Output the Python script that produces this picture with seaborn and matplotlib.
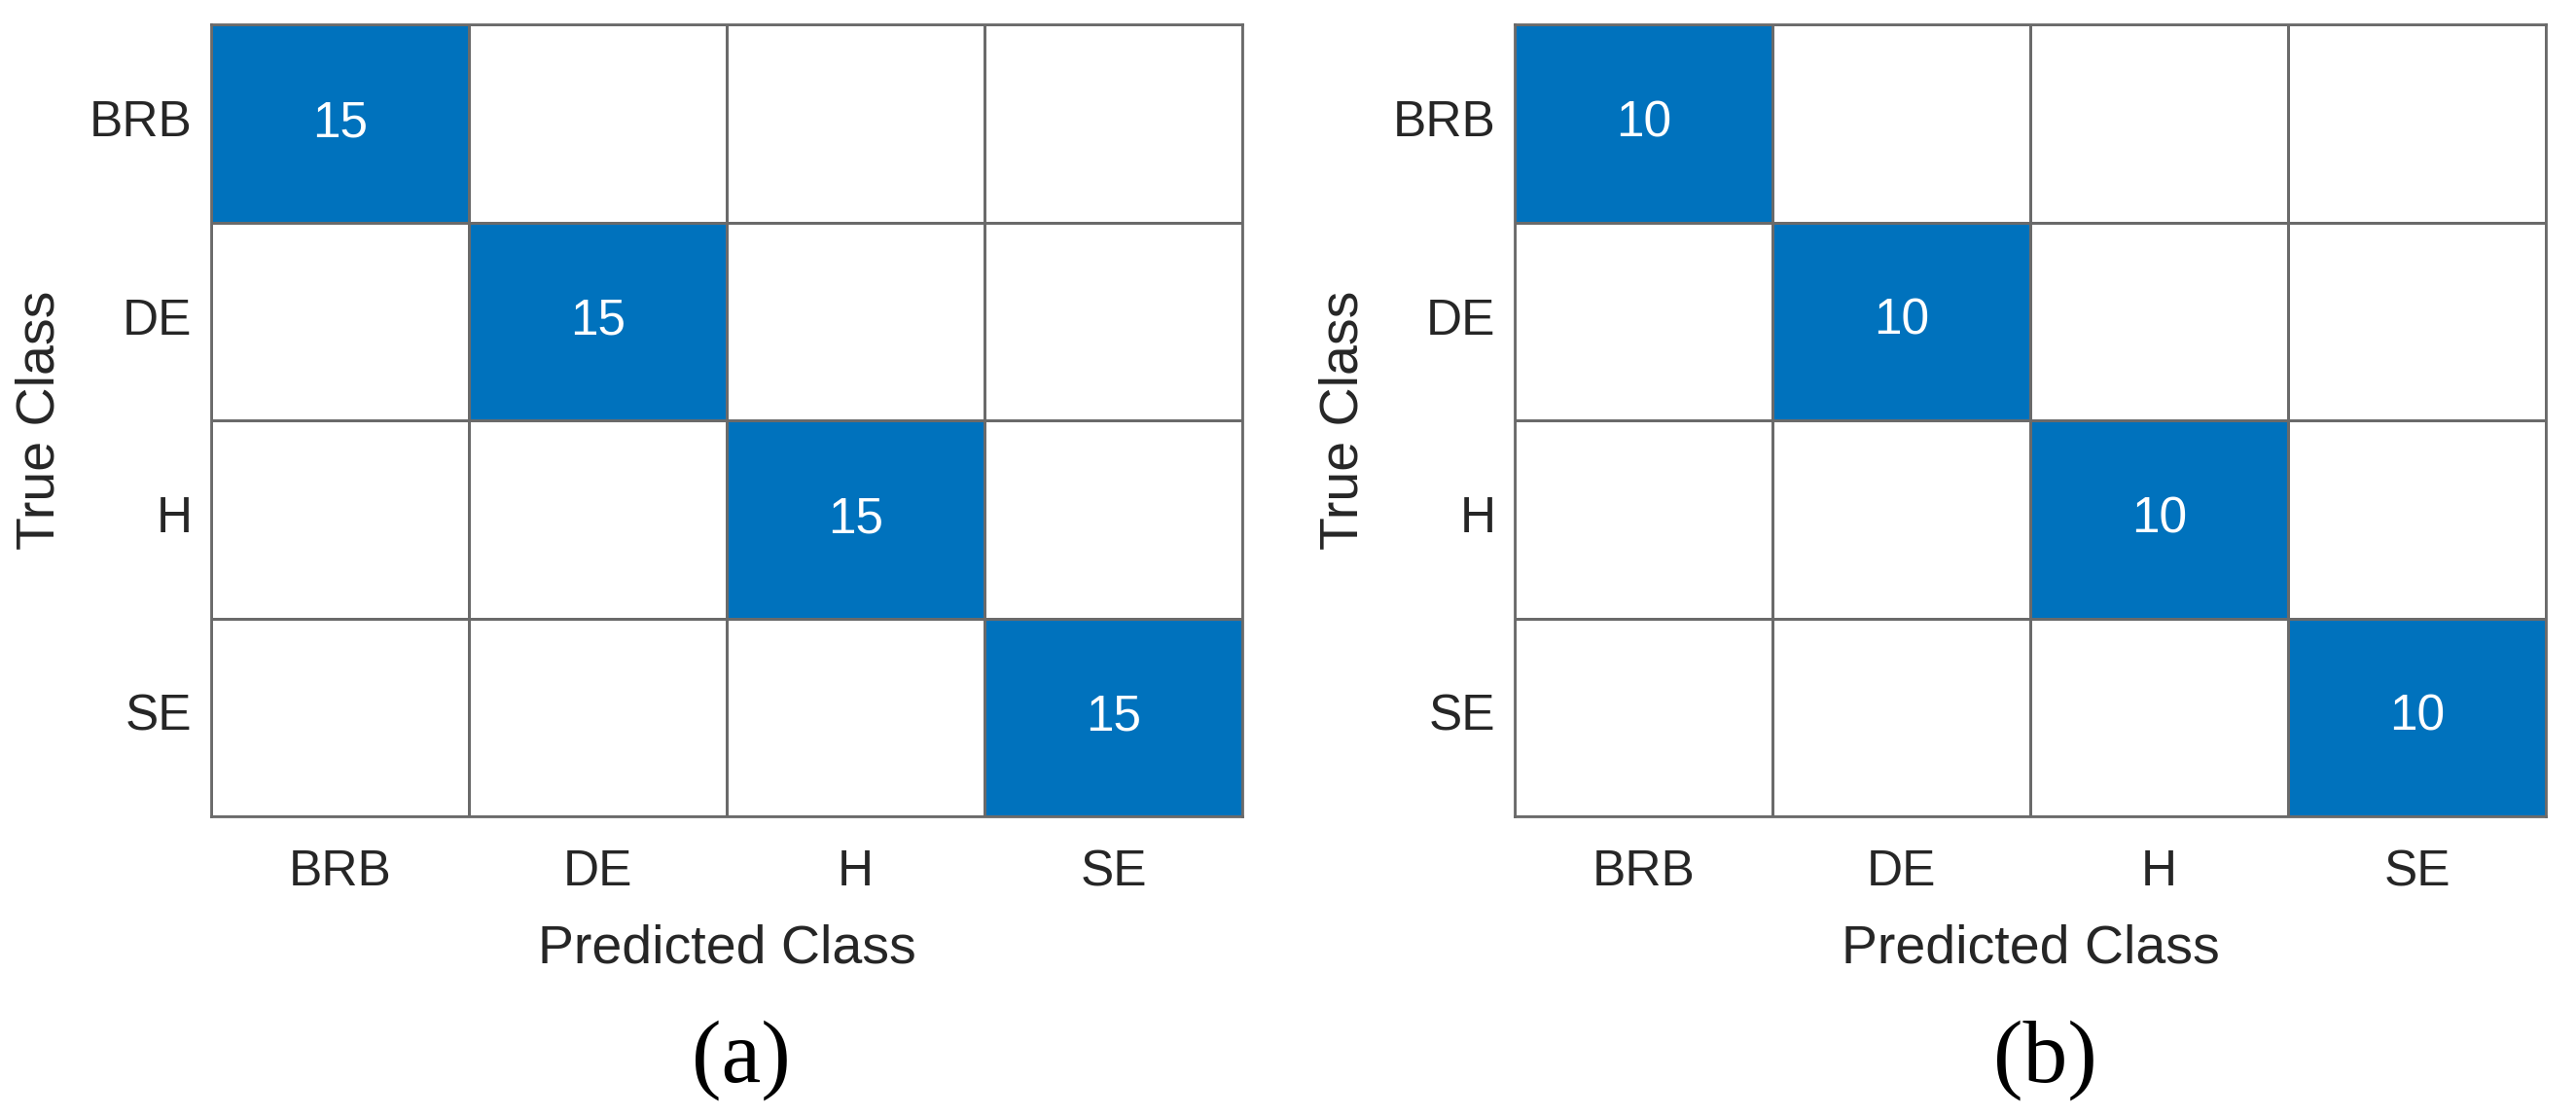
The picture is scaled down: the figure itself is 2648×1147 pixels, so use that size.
import numpy as np
import pandas as pd
import matplotlib
matplotlib.use('Agg')
import matplotlib.pyplot as plt
from matplotlib.colors import ListedColormap
import seaborn as sns

# Datos de las dos matrices de confusión
clases = ['BRB', 'DE', 'H', 'SE']
conf_a = [[15, 0, 0, 0],
          [0, 15, 0, 0],
          [0, 0, 15, 0],
          [0, 0, 0, 15]]
conf_b = [[10, 0, 0, 0],
          [0, 10, 0, 0],
          [0, 0, 10, 0],
          [0, 0, 0, 10]]
etiquetas = ['(a)', '(b)']

sns.set_style('white')
plt.rcParams['font.family'] = ['Liberation Sans', 'DejaVu Sans']

W, H = 2648, 1147
fig = plt.figure(figsize=(W / 100, H / 100), dpi=100)

azul = '#0072BD'
gris = '#6a6a6a'
cmap = ListedColormap(['white', azul])

# posiciones en píxeles: (izquierda, arriba, derecha, abajo)
paneles = [(217, 25, 1277, 839), (1557, 25, 2617, 839)]

for (x0, y0, x1, y1), datos, etiqueta in zip(paneles, [conf_a, conf_b], etiquetas):
    ax = fig.add_axes([x0 / W, 1 - y1 / H, (x1 - x0) / W, (y1 - y0) / H])
    df = pd.DataFrame(datos, index=clases, columns=clases)
    mask_color = (df > 0).astype(int)
    anot = df.astype(str).where(df > 0, '')
    sns.heatmap(mask_color, ax=ax, cmap=cmap, vmin=0, vmax=1, cbar=False,
                annot=anot, fmt='', linewidths=2, linecolor=gris,
                annot_kws={'color': 'white', 'fontsize': 37})
    for s in ax.spines.values():
        s.set_visible(True)
        s.set_color(gris)
        s.set_linewidth(2)
    ax.tick_params(axis='both', length=0, labelsize=37, colors='#262626')
    ax.tick_params(axis='x', pad=24)
    ax.tick_params(axis='y', pad=14)
    ax.set_yticklabels(clases, rotation=0)
    ax.set_xticklabels(clases, rotation=0)
    ax.set_xlabel('')
    ax.set_ylabel('')

    cx = (x0 + x1) / 2
    fig.text(cx / W, 1 - 990 / H, 'Predicted Class', ha='center', va='baseline',
             fontsize=40, color='#262626')
    fig.text((x0 - 175) / W, 1 - ((y0 + y1) / 2) / H, 'True Class', rotation=90,
             ha='center', va='center', fontsize=40, color='#262626')
    fig.text((cx + 15) / W, 1 - 1090 / H, etiqueta, ha='center', va='center',
             fontsize=66, family=['Liberation Serif', 'DejaVu Serif'], color='black')

fig.savefig('out.png', dpi=100)
